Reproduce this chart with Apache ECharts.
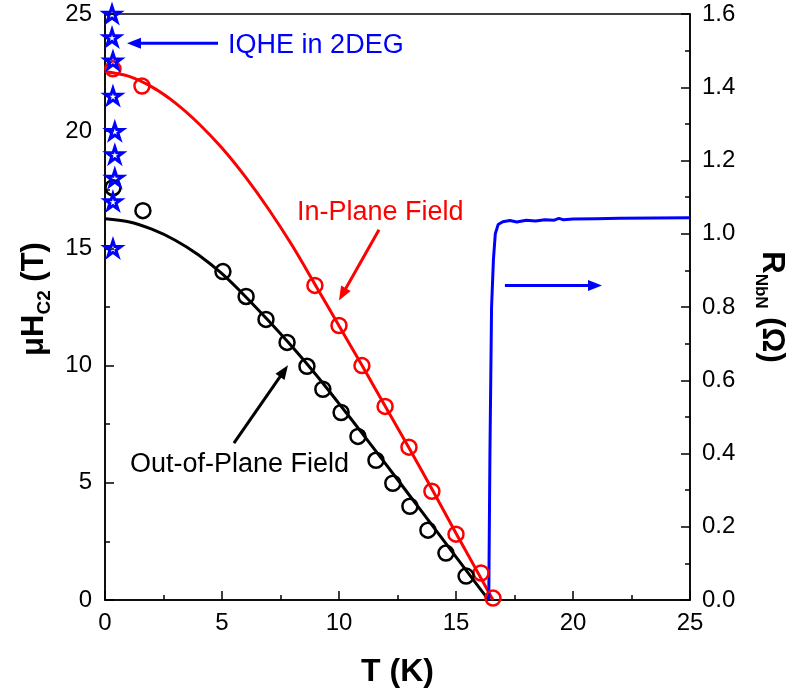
<!DOCTYPE html>
<html>
<head>
<meta charset="utf-8">
<script src="https://cdn.jsdelivr.net/npm/echarts@6/dist/echarts.min.js"></script>
<style>
  html, body { margin: 0; padding: 0; background: #fff; }
  #chart { width: 792px; height: 696px; }
</style>
</head>
<body>
<div id="chart"></div>
<script>
// ---- data ----
// [T (K), mu0 Hc2 (T)]
const inPlanePts = [
  [0.34, 22.66], [1.58, 21.93], [8.97, 13.42], [10.0, 11.71], [10.98, 10.0],
  [11.97, 8.26], [12.99, 6.52], [13.97, 4.64], [15.0, 2.81], [16.07, 1.15], [16.58, 0.08]
];
const outPlanePts = [
  [0.34, 17.59], [1.62, 16.61], [5.04, 14.01], [6.03, 12.95], [6.88, 11.97],
  [7.78, 10.99], [8.63, 9.97], [9.31, 8.99], [10.09, 8.0], [10.81, 6.98],
  [11.58, 5.96], [12.3, 4.98], [13.03, 4.0], [13.8, 2.98], [14.57, 2.0], [15.43, 1.02]
];
const inPlaneFit = [
  [0, 22.55], [1, 22.35], [2, 21.89], [3, 21.21], [4, 20.33], [5, 19.28], [6, 18.05],
  [7, 16.66], [8, 15.12], [9, 13.42], [10, 11.7], [11, 9.98], [12, 8.22], [13, 6.47],
  [14, 4.68], [15, 2.85], [16, 1.05], [16.58, 0]
];
const outPlaneFit = [
  [0, 16.27], [1, 16.14], [2, 15.82], [3, 15.35], [4, 14.72], [5, 13.92], [6, 12.95],
  [7, 11.9], [8, 10.8], [9, 9.63], [10, 8.38], [11, 7.1], [12, 5.8], [13, 4.48],
  [14, 3.16], [15, 1.84], [16, 0.52], [16.4, 0]
];
const iqhePts = [
  [0.34, 15], [0.34, 17], [0.42, 18], [0.42, 19], [0.42, 20],
  [0.34, 21.5], [0.34, 23], [0.3, 24], [0.3, 25]
];
// [T (K), R_NbN (Ohm)]
const resistance = [
  [16.4, 0], [16.45, 0.4], [16.52, 0.8], [16.6, 0.93], [16.68, 1.0], [16.8, 1.025],
  [17.0, 1.033], [17.3, 1.036], [17.6, 1.032], [18.0, 1.037], [18.4, 1.035],
  [18.8, 1.038], [19.2, 1.037], [19.4, 1.042], [19.6, 1.038], [20.0, 1.04],
  [21.0, 1.041], [22.0, 1.042], [23.5, 1.043], [25.0, 1.044]
];
const xTicks = { min: 0, max: 25, step: 5 };
const hTicks = { min: 0, max: 25, step: 5 };
const rTicks = { min: 0, max: 1.6, step: 0.2 };

// annotations: text + arrow in data coords of the left axis
const notes = [
  { text: 'IQHE in 2DEG', color: '#0000ff', at: [5.26, 23.67], from: [4.83, 23.75], to: [0.94, 23.75] },
  { text: 'In-Plane Field', color: '#ff0000', at: [8.2, 16.52], from: [11.71, 15.8], to: [10.0, 12.78] },
  { text: 'Out-of-Plane Field', color: '#000000', at: [1.07, 5.79], from: [5.51, 6.69], to: [7.82, 10.01] },
  { text: '', color: '#0000ff', at: null, from: [17.09, 13.42], to: [21.24, 13.42] }
];

const FONT = '"Liberation Sans", Arial, Helvetica, sans-serif';
const STAR = 'path://M10,0 L12.23,6.91 L19.51,6.91 L13.62,11.18 L15.88,18.09 L10,13.8 L4.12,18.09 L6.38,11.18 L0.49,6.91 L7.77,6.91 Z';

function axisStyle() {
  return {
    axisLine: { show: true, lineStyle: { color: '#000', width: 1.5 } },
    axisTick: { show: true, inside: true, length: 9, lineStyle: { color: '#000', width: 1.5 } },
    minorTick: { show: true, splitNumber: 2, length: 5, lineStyle: { color: '#000', width: 1.5 } },
    splitLine: { show: false },
    minorSplitLine: { show: false }
  };
}

const chart = echarts.init(document.getElementById('chart'));

const option = {
  animation: false,
  backgroundColor: '#fff',
  textStyle: { fontFamily: FONT },
  grid: {
    left: 105, right: 102, top: 14, bottom: 96,
    show: true, borderColor: '#000', borderWidth: 1.5,
    containLabel: false, outerBoundsMode: 'none'
  },
  xAxis: Object.assign({
    type: 'value',
    min: xTicks.min, max: xTicks.max, interval: xTicks.step,
    axisLabel: { fontSize: 24, color: '#000', margin: 11, fontFamily: FONT },
    name: 'T (K)', nameLocation: 'middle', nameGap: 56,
    nameTextStyle: { fontSize: 32, fontWeight: 'bold', color: '#000', fontFamily: FONT }
  }, axisStyle()),
  yAxis: [
    Object.assign({
      type: 'value', position: 'left',
      min: hTicks.min, max: hTicks.max, interval: hTicks.step,
      axisLabel: { fontSize: 24, color: '#000', margin: 13, fontFamily: FONT },
      name: '{m|\u03bcH}{s|C2}{m| (T)}', nameLocation: 'middle', nameGap: 46,
      nameTextStyle: {
        color: '#000', fontFamily: FONT, padding: [0, 0, 0, 16],
        rich: {
          m: { fontSize: 31, fontWeight: 'bold', lineHeight: 40, fontFamily: FONT, color: '#000' },
          s: { fontSize: 19, fontWeight: 'bold', lineHeight: 24, verticalAlign: 'bottom', fontFamily: FONT, color: '#000' }
        }
      }
    }, axisStyle()),
    Object.assign({
      type: 'value', position: 'right',
      min: rTicks.min, max: rTicks.max, interval: rTicks.step,
      axisLabel: { fontSize: 24, color: '#000', margin: 12, fontFamily: FONT, formatter: v => v.toFixed(1) },
      name: '{m|R}{s|NbN}{m| (\u03a9)}', nameLocation: 'middle', nameGap: 62, nameRotate: -90,
      nameTextStyle: {
        color: '#000', fontFamily: FONT,
        rich: {
          m: { fontSize: 31, fontWeight: 'bold', lineHeight: 40, fontFamily: FONT, color: '#000' },
          s: { fontSize: 17, fontWeight: 'bold', lineHeight: 22, verticalAlign: 'bottom', fontFamily: FONT, color: '#000' }
        }
      }
    }, axisStyle())
  ],
  series: [
    {
      type: 'line', data: inPlaneFit, smooth: 0.3, showSymbol: false,
      lineStyle: { color: '#ff0000', width: 3 }, z: 2
    },
    {
      type: 'line', data: outPlaneFit, smooth: 0.3, showSymbol: false,
      lineStyle: { color: '#000000', width: 3 }, z: 2
    },
    {
      type: 'scatter', data: inPlanePts, symbol: 'circle', symbolSize: 15,
      itemStyle: { color: 'rgba(0,0,0,0)', borderColor: '#ff0000', borderWidth: 2.5, opacity: 1 }, z: 3
    },
    {
      type: 'scatter', data: outPlanePts, symbol: 'circle', symbolSize: 15,
      itemStyle: { color: 'rgba(0,0,0,0)', borderColor: '#000000', borderWidth: 2.5, opacity: 1 }, z: 3
    },
    {
      type: 'scatter', data: iqhePts, symbol: STAR, symbolSize: 16, symbolKeepAspect: true, clip: true,
      itemStyle: { color: 'rgba(0,0,0,0)', borderColor: '#0000ff', borderWidth: 3, opacity: 1 }, z: 4
    },
    {
      type: 'line', yAxisIndex: 1, data: resistance, showSymbol: false,
      lineStyle: { color: '#0000ff', width: 3 }, z: 2
    }
  ]
};

chart.setOption(option);

// arrows and annotation texts, placed through the axes
const graphics = [];
notes.forEach(n => {
  const a = chart.convertToPixel({ xAxisIndex: 0, yAxisIndex: 0 }, n.from);
  const b = chart.convertToPixel({ xAxisIndex: 0, yAxisIndex: 0 }, n.to);
  const dx = b[0] - a[0], dy = b[1] - a[1];
  const len = Math.sqrt(dx * dx + dy * dy);
  const ux = dx / len, uy = dy / len;
  const headL = 14, headW = 11;
  const bx = b[0] - ux * headL, by = b[1] - uy * headL;
  graphics.push({
    type: 'line', silent: true, z: 10,
    shape: { x1: a[0], y1: a[1], x2: bx + ux * 2, y2: by + uy * 2 },
    style: { stroke: n.color, lineWidth: 3 }
  });
  graphics.push({
    type: 'polygon', silent: true, z: 10,
    shape: { points: [[b[0], b[1]], [bx - uy * headW / 2, by + ux * headW / 2], [bx + uy * headW / 2, by - ux * headW / 2]] },
    style: { fill: n.color }
  });
  if (n.at) {
    const p = chart.convertToPixel({ xAxisIndex: 0, yAxisIndex: 0 }, n.at);
    graphics.push({
      type: 'text', silent: true, z: 10, x: p[0], y: p[1],
      style: { text: n.text, fill: n.color, font: '27px ' + FONT, textAlign: 'left', textVerticalAlign: 'middle' }
    });
  }
});
chart.setOption({ graphic: graphics });
</script>
</body>
</html>
